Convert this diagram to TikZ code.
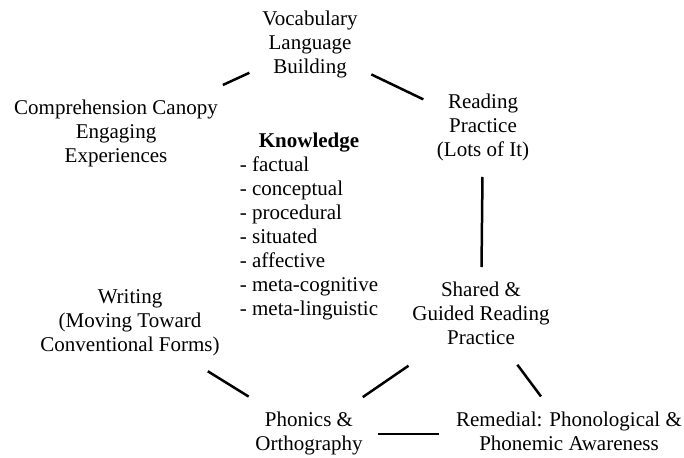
\documentclass[tikz,border=0pt]{standalone}
\usepackage{fontspec}
\setmainfont{Liberation Serif}

% centred multi-line label with fixed line pitch
\newcommand{\stackc}[1]{\begin{tabular}{@{}c@{}}#1\end{tabular}}

\tikzset{
  topic/.style={inner sep=0pt, font=\fontsize{21}{24}\selectfont},
  link/.style={line width=2.5pt, black},
}

\begin{document}
\begin{tikzpicture}[x=1pt, y=-1pt]
  \useasboundingbox (0,0) rectangle (684,457);

  % topics around the circle
  \node[topic] (voc)    at (310,45)  {\stackc{Vocabulary\\Language\\Building}};
  \node[topic] (comp)   at (116,134) {\stackc{Comprehension Canopy\\Engaging\\Experiences}};
  \node[topic] (read)   at (483,128) {\stackc{Reading\\Practice\\(Lots of It)}};
  \node[topic] (writ)   at (130,323) {\stackc{Writing\\(Moving Toward\\Conventional Forms)}};
  \node[topic] (shared) at (481,316) {\stackc{Shared \&\\Guided Reading\\Practice}};
  \node[topic] (phon)   at (309,434) {\stackc{Phonics \&\\Orthography}};
  \node[topic] (rem)    at (569,434) {\stackc{Remedial: Phonological \&\\Phonemic Awareness}};

  % central knowledge list
  \node[topic] (know) at (309,227) {\begin{tabular}{@{}l@{}}
      \multicolumn{1}{@{}c@{}}{\textbf{Knowledge}}\\
      - factual\\
      - conceptual\\
      - procedural\\
      - situated\\
      - affective\\
      - meta-cognitive\\
      - meta-linguistic
    \end{tabular}};

  % connectors
  \draw[link, shorten <=66.7pt, shorten >=117.6pt] (voc.center) -- (comp.center);
  \draw[link, shorten <=68pt,   shorten >=66.2pt]  (voc.center) -- (read.center);
  \draw[link, shorten <=49pt,   shorten >=49pt]    (read.center) -- (shared.center);
  \draw[link, shorten <=91.6pt, shorten >=71pt]    (writ.center) -- (phon.center);
  \draw[link, shorten <=87.9pt, shorten >=65.2pt]  (shared.center) -- (phon.center);
  \draw[link, shorten <=60.8pt, shorten >=46.9pt]  (shared.center) -- (rem.center);
  \draw[link, shorten <=69pt,   shorten >=130pt]   (phon.center) -- (rem.center);
\end{tikzpicture}
\end{document}
